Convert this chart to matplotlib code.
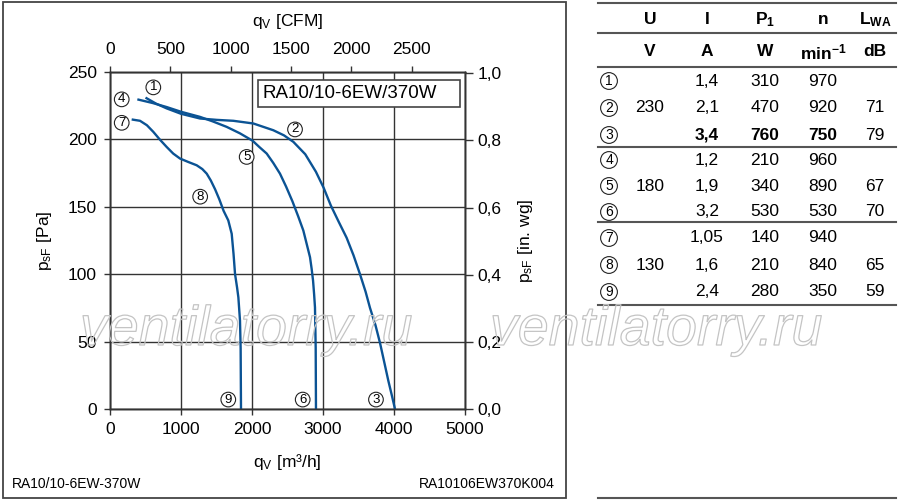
import matplotlib
matplotlib.use("Agg")
import matplotlib.pyplot as plt
import matplotlib.patheffects as pe
from matplotlib.lines import Line2D
from matplotlib.patches import Rectangle
from matplotlib.ticker import FuncFormatter

plt.rcParams["font.family"] = ["Liberation Sans", "DejaVu Sans"]
plt.rcParams["mathtext.fontset"] = "custom"
plt.rcParams["mathtext.rm"] = "Liberation Sans"
plt.rcParams["mathtext.it"] = "Liberation Sans"
plt.rcParams["mathtext.bf"] = "Liberation Sans:bold"
plt.rcParams["mathtext.default"] = "regular"

# fan curves, flow in m3/h, static pressure in Pa
flow_230 = [500, 650, 798, 1000, 1268, 1500, 1737, 2019, 2300, 2450, 2582, 2750, 2900, 3010,
            3110, 3220, 3333, 3430, 3521, 3600, 3662, 3740, 3803, 3870, 3920, 3970, 4014]
pres_230 = [231, 226.5, 223, 219, 215.5, 214.5, 213.8, 211.8, 206.8, 203, 198.2, 189, 176, 164,
            151, 139, 127, 114, 100, 87, 75, 62, 49, 33, 21, 10, 0]
flow_180 = [385, 600, 798, 1000, 1268, 1450, 1643, 1830, 2009, 2100, 2207, 2300, 2394, 2480,
            2570, 2650, 2723, 2770, 2817, 2840, 2860, 2875, 2887, 2897, 2901]
pres_180 = [229.7, 227, 224, 220.5, 216.7, 213.3, 209.3, 204.5, 199, 194.5, 189.5, 182.5, 174.6, 165,
            154, 143, 132.4, 122.5, 112.6, 104, 95.2, 85, 75.4, 45.6, 0]
flow_130 = [305, 423, 520, 610, 700, 798, 890, 986, 1100, 1221, 1300, 1362, 1420, 1480, 1540,
            1600, 1666, 1714, 1740, 1761, 1790, 1808, 1831, 1840, 1845]
pres_130 = [214.8, 213.8, 210.5, 205.6, 200, 194.4, 189.5, 185.8, 183.3, 180.8, 178, 174.6, 169.5, 163, 155.5,
            147, 139.9, 130, 115, 100.2, 90, 82.8, 65.5, 45, 0]

# operating point labels (circled numbers) placed on chart
point_ids = ["1", "2", "3", "4", "5", "6", "7", "8", "9"]
point_x = [610, 2606, 3746, 165, 1925, 2714, 165, 1270, 1666]
point_y = [238.6, 207.4, 7, 229.7, 187, 7, 212.3, 157.5, 7]

# table data
tab_head1 = ["U", "I", "P$_{\\mathbf{1}}$", "n", "L$_{\\mathbf{WA}}$"]
tab_head2 = ["V", "A", "W", "min$^{\\mathbf{-1}}$", "dB"]
tab_U = ["", "230", "", "", "180", "", "", "130", ""]
tab_I = ["1,4", "2,1", "3,4", "1,2", "1,9", "3,2", "1,05", "1,6", "2,4"]
tab_P = ["310", "470", "760", "210", "340", "530", "140", "210", "280"]
tab_n = ["970", "920", "750", "960", "890", "530", "940", "840", "350"]
tab_L = ["", "71", "79", "", "67", "70", "", "65", "59"]

W, H = 900, 503
blue = "#0b5394"
dark = "#333333"
fs = 12.5

fig = plt.figure(figsize=(9, 5.03), dpi=100)
ax = fig.add_axes([110 / W, 1 - 409 / H, 355 / W, 337 / H])

for xs, ys in [(flow_230, pres_230), (flow_180, pres_180), (flow_130, pres_130)]:
    ax.plot(xs, ys, color=blue, lw=1.7, zorder=4, solid_capstyle="butt", solid_joinstyle="round")

ax.set_xlim(0, 5000)
ax.set_ylim(0, 250)
ax.set_xticks(range(0, 5001, 1000))
ax.set_yticks(range(0, 251, 50))
ax.grid(True, color=dark, lw=1.0, zorder=1)
ax.set_axisbelow(True)
for s in ax.spines.values():
    s.set_color(dark)
    s.set_linewidth(1.0)
ax.tick_params(direction="out", length=4.5, width=1, color=dark, labelsize=fs, pad=5)
ax.set_xlabel("q$_{V}$ [m³/h]", fontsize=fs, labelpad=11)
ax.set_ylabel("p$_{sF}$ [Pa]", fontsize=fs, labelpad=10)

# top axis in CFM
axt = ax.twiny()
axt.set_xlim(0, 5000 / 1.699)
axt.set_xticks(range(0, 2501, 500))
axt.tick_params(direction="out", length=4.5, width=1, color=dark, labelsize=fs, pad=6)
axt.set_xlabel("q$_{V}$ [CFM]", fontsize=fs, labelpad=12)

# right axis in inch water gauge
axr = ax.twinx()
axr.set_ylim(0, 250 / 249.09)
axr.set_yticks([0, 0.2, 0.4, 0.6, 0.8, 1.0])
axr.yaxis.set_major_formatter(FuncFormatter(lambda v, _: f"{v:.1f}".replace(".", ",")))
axr.tick_params(direction="out", length=6, width=1, color=dark, labelsize=fs, pad=3)
axr.set_ylabel("p$_{sF}$ [in. wg]", fontsize=fs, labelpad=10)
for a in (axt, axr):
    for s in a.spines.values():
        s.set_color(dark)
        s.set_linewidth(1.0)

for pid, px, py in zip(point_ids, point_x, point_y):
    ax.text(px, py, pid, fontsize=9.5, ha="center", va="center", zorder=6,
            bbox=dict(boxstyle="circle,pad=0.1", fc="white", ec="#222222", lw=0.8))

# model box
ax.add_patch(Rectangle((0.417, 0.896), 0.569, 0.08, transform=ax.transAxes,
                       fc="white", ec="#444444", lw=1.2, zorder=5))
ax.text(0.43, 0.936, "RA10/10-6EW/370W", transform=ax.transAxes, fontsize=13.5,
        ha="left", va="center", zorder=6)

# outer frame and footer
fig.add_artist(Rectangle((3 / W, 1 - 498 / H), 563 / W, 496 / H, transform=fig.transFigure,
                         fill=False, ec="#444444", lw=1.3))
fig.text(12 / W, 1 - 484 / H, "RA10/10-6EW-370W", fontsize=10, va="center")
fig.text(555 / W, 1 - 484 / H, "RA10106EW370K004", fontsize=10, va="center", ha="right")

# table
for y in [3, 33, 67, 147, 222, 305, 498]:
    fig.add_artist(Line2D([598 / W, 896 / W], [1 - y / H] * 2, color="#555555", lw=1.5))
col_x = [650, 707, 765, 823, 875]
for cx, h1, h2 in zip(col_x, tab_head1, tab_head2):
    fig.text(cx / W, 1 - 20 / H, h1, fontsize=fs, fontweight="bold", ha="center", va="center")
    fig.text(cx / W, 1 - 52 / H, h2, fontsize=fs, fontweight="bold", ha="center", va="center")
row_y = [81, 108, 135, 160, 186, 212, 238, 265, 292]
for i, ry in enumerate(row_y):
    fy = 1 - ry / H
    fig.text(609 / W, fy, point_ids[i], fontsize=10, ha="center", va="center",
             bbox=dict(boxstyle="circle,pad=0.1", fc="white", ec="#222222", lw=0.8))
    wt = "bold" if i == 2 else "normal"
    fig.text(col_x[0] / W, fy, tab_U[i], fontsize=fs, ha="center", va="center")
    fig.text(col_x[1] / W, fy, tab_I[i], fontsize=fs, ha="center", va="center", fontweight=wt)
    fig.text(col_x[2] / W, fy, tab_P[i], fontsize=fs, ha="center", va="center", fontweight=wt)
    fig.text(col_x[3] / W, fy, tab_n[i], fontsize=fs, ha="center", va="center", fontweight=wt)
    fig.text(col_x[4] / W, fy, tab_L[i], fontsize=fs, ha="center", va="center")

# watermark (outlined text, as in the source image)
for wx in [80, 490]:
    fig.text(wx / W, 1 - 345 / H, "ventilatorry.ru", fontsize=40, style="italic",
             color="none", ha="left", va="baseline", zorder=3,
             path_effects=[pe.Stroke(linewidth=0.9, foreground="#c4c4c4")])

fig.savefig("out.png", dpi=100)
